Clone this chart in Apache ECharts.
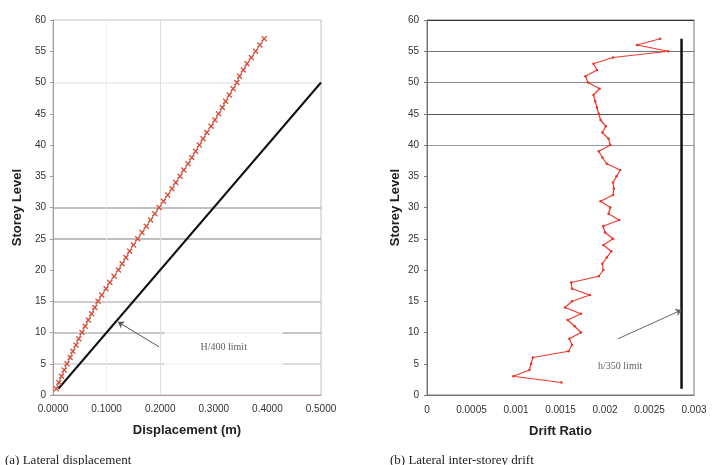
<!DOCTYPE html>
<html>
<head>
<meta charset="utf-8">
<script src="https://cdn.jsdelivr.net/npm/echarts@6/dist/echarts.min.js"></script>
<style>
  html, body { margin: 0; padding: 0; background: #fff; }
  #chart { width: 720px; height: 465px; }
</style>
</head>
<body>
<div id="chart"></div>
<script>
// storey levels and lateral displacement (m), chart (a)
var dispStoreys = [1,2,3,4,5,6,7,8,9,10,11,12,13,14,15,16,17,18,19,20,21,22,23,24,25,26,27,28,29,
  30,31,32,33,34,35,36,37,38,39,40,41,42,43,44,45,46,47,48,49,50,51,52,53,54,55,56,57];
var displacement = [0.006,0.011,0.016,0.021,0.026,0.032,0.037,0.043,0.048,0.054,0.060,0.066,0.072,
  0.078,0.084,0.091,0.099,0.106,0.114,0.122,0.129,0.136,0.143,0.150,0.158,0.166,0.174,0.182,0.190,
  0.198,0.206,0.214,0.222,0.229,0.237,0.244,0.252,0.259,0.266,0.273,0.280,0.287,0.295,0.302,0.309,
  0.316,0.322,0.329,0.336,0.343,0.348,0.355,0.362,0.370,0.378,0.386,0.394];
// H/400 limit line end points
var limitDispX = [0.01, 0.5];
var limitDispY = [1, 50];

// inter-storey drift ratio, chart (b)
var driftStoreys = [2,3,4,5,6,7,8,9,10,11,12,13,14,15,16,17,18,19,20,21,22,23,24,25,26,27,28,29,
  30,31,32,33,34,35,36,37,38,39,40,41,42,43,44,45,46,47,48,49,50,51,52,53,54,55,56,57];
var drift = [0.00151,0.00097,0.00115,0.00117,0.00119,0.00159,0.00163,0.00160,0.00173,0.00166,
  0.00158,0.00173,0.00155,0.00163,0.00183,0.00163,0.00162,0.00193,0.00198,0.00197,0.00202,0.00207,
  0.00198,0.00209,0.00200,0.00198,0.00216,0.00204,0.00206,0.00195,0.00209,0.00210,0.00209,0.00213,
  0.00217,0.00202,0.00197,0.00193,0.00206,0.00204,0.00197,0.00201,0.00195,0.00193,0.00191,0.00189,
  0.00187,0.00194,0.00181,0.00178,0.00191,0.00187,0.00209,0.00271,0.00236,0.00262];
// h/350 limit line
var limitDriftX = [0.00286, 0.00286];
var limitDriftY = [1, 57];

var dispTicks = ['0.0000','0.1000','0.2000','0.3000','0.4000','0.5000'];
var driftTicks = ['0','0.0005','0.001','0.0015','0.002','0.0025','0.003'];

function pairs(xs, ys) {
  let out = [];
  for (let i = 0; i < xs.length; i++) out.push([xs[i], ys[i]]);
  return out;
}

var chart = echarts.init(document.getElementById('chart'));
var lbl = { fontFamily: 'Liberation Sans, Arial', fontSize: 10, color: '#333' };
var nameStyle = { fontFamily: 'Liberation Sans, Arial', fontSize: 13, fontWeight: 'bold', color: '#222' };
var none = 'rgba(0,0,0,0)';

var option = {
  animation: false,
  backgroundColor: '#fff',
  title: [
    { text: '(a) Lateral displacement', left: 0, top: 449,
      textStyle: { fontFamily: 'Liberation Serif, Times New Roman', fontSize: 13, fontWeight: 'normal', color: '#222' } },
    { text: '(b) Lateral inter-storey drift', left: 385, top: 449,
      textStyle: { fontFamily: 'Liberation Serif, Times New Roman', fontSize: 13, fontWeight: 'normal', color: '#222' } }
  ],
  grid: [
    { left: 53, top: 20, width: 268, height: 375, show: true, borderColor: '#c9bcbc', borderWidth: 1 },
    { left: 427, top: 20, width: 267, height: 375, show: true, borderColor: '#777', borderWidth: 1 }
  ],
  xAxis: [
    { gridIndex: 0, type: 'value', min: 0, max: 0.5, interval: 0.1,
      name: 'Displacement (m)', nameLocation: 'middle', nameGap: 29, nameTextStyle: nameStyle,
      axisLine: { lineStyle: { color: '#a99' } },
      axisTick: { show: false },
      axisLabel: Object.assign({ margin: 9, formatter: function (v) { return dispTicks[Math.round(v / 0.1)]; } }, lbl),
      splitLine: { show: true, lineStyle: { color: [none, '#efefef', '#dedede', none, none, none] } } },
    { gridIndex: 1, type: 'value', min: 0, max: 0.003, interval: 0.0005,
      name: 'Drift Ratio', nameLocation: 'middle', nameGap: 30, nameTextStyle: nameStyle,
      axisLine: { lineStyle: { color: '#777' } },
      axisTick: { show: false },
      axisLabel: Object.assign({ margin: 10, formatter: function (v) { return driftTicks[Math.round(v / 0.0005)]; } }, lbl),
      splitLine: { show: false } }
  ],
  yAxis: [
    { gridIndex: 0, type: 'value', min: 0, max: 60, interval: 5,
      name: 'Storey Level', nameLocation: 'middle', nameGap: 29, nameTextStyle: nameStyle,
      axisLine: { show: true, lineStyle: { color: '#a99' } },
      axisTick: { show: true, length: 3, lineStyle: { color: '#a99' } },
      axisLabel: Object.assign({ margin: 7 }, lbl),
      splitLine: { show: true, lineStyle: { width: 1.5,
        color: [none, '#cfcfcf', '#b5b5b5', '#bdbdbd', none, '#aaa', '#aaa', none, none, none, '#e8e8e8', none, none] } } },
    { gridIndex: 1, type: 'value', min: 0, max: 60, interval: 5,
      name: 'Storey Level', nameLocation: 'middle', nameGap: 25, nameTextStyle: nameStyle,
      axisLine: { show: true, lineStyle: { color: '#777' } },
      axisTick: { show: true, length: 3, lineStyle: { color: '#777' } },
      axisLabel: Object.assign({ margin: 8 }, lbl),
      splitLine: { show: true, lineStyle: { width: 1.2,
        color: [none, none, none, none, none, none, none, none, '#999', '#555', '#888', '#777', '#333'] } } }
  ],
  series: [
    { name: 'H/400 limit', type: 'line', xAxisIndex: 0, yAxisIndex: 0,
      data: pairs(limitDispX, limitDispY), symbol: 'none',
      lineStyle: { color: '#111', width: 2 }, z: 3 },
    { name: 'Displacement', type: 'line', xAxisIndex: 0, yAxisIndex: 0,
      data: pairs(displacement, dispStoreys),
      symbol: 'path://M0,0L10,10M10,0L0,10', symbolSize: 5,
      itemStyle: { color: none, borderColor: '#e2482a', borderWidth: 1.2 },
      lineStyle: { color: '#8aa8cc', width: 1.2 }, z: 4 },
    { name: 'label a', type: 'scatter', xAxisIndex: 0, yAxisIndex: 0, silent: true,
      data: [[0.3185, 7.6]], symbolSize: 0, z: 5,
      label: { show: true, position: 'inside', formatter: 'H/400 limit',
        fontFamily: 'Liberation Serif, Times New Roman', fontSize: 10, color: '#333',
        backgroundColor: '#fff', padding: [14, 36] } },
    { name: 'arrow a', type: 'lines', coordinateSystem: 'cartesian2d', xAxisIndex: 0, yAxisIndex: 0,
      data: [{ coords: [[0.198, 7.7], [0.121, 11.7]] }],
      symbol: ['none', 'arrow'], symbolSize: 6,
      lineStyle: { color: '#555', width: 1, opacity: 1 }, z: 6 },

    { name: 'h/350 limit', type: 'line', xAxisIndex: 1, yAxisIndex: 1,
      data: pairs(limitDriftX, limitDriftY), symbol: 'none',
      lineStyle: { color: '#111', width: 2.5 }, z: 3 },
    { name: 'Drift', type: 'line', xAxisIndex: 1, yAxisIndex: 1,
      data: pairs(drift, driftStoreys),
      symbol: 'circle', symbolSize: 2.5,
      itemStyle: { color: '#e8352a' },
      lineStyle: { color: '#f03a2c', width: 1.2 }, z: 4 },
    { name: 'label b', type: 'scatter', xAxisIndex: 1, yAxisIndex: 1, silent: true,
      data: [[0.00217, 4.6]], symbolSize: 0, z: 5,
      label: { show: true, position: 'inside', formatter: 'h/350 limit',
        fontFamily: 'Liberation Serif, Times New Roman', fontSize: 10, color: '#333' } },
    { name: 'arrow b', type: 'lines', coordinateSystem: 'cartesian2d', xAxisIndex: 1, yAxisIndex: 1,
      data: [{ coords: [[0.002146, 9.0], [0.00286, 13.6]] }],
      symbol: ['none', 'arrow'], symbolSize: 6,
      lineStyle: { color: '#666', width: 1, opacity: 1 }, z: 6 }
  ]
};
chart.setOption(option);
</script>
</body>
</html>
